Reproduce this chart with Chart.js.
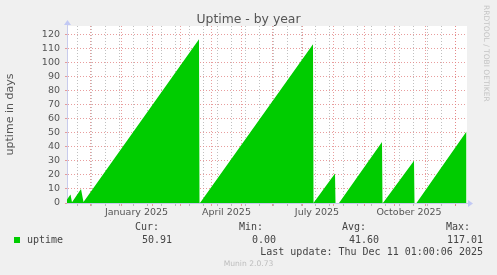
<!DOCTYPE html>
<html>
<head>
<meta charset="utf-8">
<script src="https://cdn.jsdelivr.net/npm/chart.js@4.4.1/dist/chart.umd.min.js"></script>
<style>
  html, body { margin: 0; padding: 0; background: #f0f0f0; }
  #wrap { position: relative; width: 497px; height: 275px; overflow: hidden; font-family: "DejaVu Sans", sans-serif; }
  #chart { position: absolute; left: 0; top: 0; }
  .t { position: absolute; white-space: pre; line-height: 12px; }
  .mono { font-family: "DejaVu Sans Mono", monospace; font-size: 10px; color: #444; }
</style>
</head>
<body>
<div id="wrap">
  <canvas id="chart" width="497" height="275"></canvas>
  <div class="t" style="left:0;width:497px;top:13px;text-align:center;font-size:12.4px;color:#555;">Uptime - by year</div>
  <div class="t" style="left:481px;top:5px;writing-mode:vertical-rl;font-size:7.5px;color:#c4c4c4;line-height:10px;">RRDTOOL / TOBI OETIKER</div>
  <div id="legend"></div>
  <div class="t" style="left:0;width:497px;top:258px;text-align:center;padding-left:-2px;font-size:7.6px;color:#bdbdbd;"><span style="position:relative;left:0px">Munin 2.0.73</span></div>
</div>
<script>
// x values are days since 8 Nov 2024 (400 day window, 1 day per pixel)
var uptimeDays = [0, 3.5, 5, 14, 16.5, 132, 132.5, 133.5, 246, 246.5, 247, 268, 268.5, 272, 315, 315.5, 316.5, 347, 347.5, 349.5, 399.5];
var uptimeVals = [2.5, 6, 0.5, 10, 0.8, 116.5, 0, 0.5, 113, 0, 0.5, 21, 0, 0, 43.5, 0, 0.5, 30, 0, 0, 50.9];

var monthStarts = [23, 54, 85, 113, 144, 174, 205, 235, 266, 297, 327, 358, 388];
var labelDays = [69.5, 159.5, 250, 342];
var labelTexts = ['January 2025', 'April 2025', 'July 2025', 'October 2025'];

var statNames = ['Cur:', 'Min:', 'Avg:', 'Max:'];
var statValues = ['50.91', '0.00', '41.60', '117.01'];
var lastUpdate = 'Last update: Thu Dec 11 01:00:06 2025';

var green = '#00cc00';
var majorCol = 'rgba(226,133,133,0.8)';
var minorCol = 'rgba(150,150,150,0.6)';
var axisCol = '#c8cbec';
var arrowCol = '#c2c9f4';

var minorDays = [];
for (var d = 10; d < 400; d += 14) minorDays.push(d);

var pts = uptimeDays.map(function (x, i) { return { x: x, y: uptimeVals[i] }; });

var plotBg = {
  id: 'plotBg',
  beforeDraw: function (chart) {
    var a = chart.chartArea, c = chart.ctx;
    c.save();
    c.fillStyle = '#f0f0f0';
    c.fillRect(0, 0, chart.width, chart.height);
    c.fillStyle = '#ffffff';
    c.fillRect(a.left, a.top, a.right - a.left, a.bottom - a.top);
    c.restore();
  },
  afterDraw: function (chart) {
    var a = chart.chartArea, c = chart.ctx;
    var lx = Math.round(a.left) + 0.5, by = Math.round(a.bottom) + 0.5;
    c.save();
    c.strokeStyle = axisCol;
    c.lineWidth = 1;
    c.beginPath();
    c.moveTo(lx, a.top); c.lineTo(lx, a.top - 3);
    c.moveTo(a.right, by); c.lineTo(a.right + 2, by);
    c.stroke();
    c.fillStyle = arrowCol;
    c.beginPath();
    c.moveTo(lx - 3.5, a.top - 1); c.lineTo(lx + 3.5, a.top - 1); c.lineTo(lx, a.top - 6); c.closePath();
    c.fill();
    c.beginPath();
    c.moveTo(a.right + 1, by - 3.5); c.lineTo(a.right + 1, by + 3.5); c.lineTo(a.right + 6, by); c.closePath();
    c.fill();
    c.restore();
  }
};

function kind(v) {
  if (monthStarts.indexOf(v) >= 0) return 'major';
  if (minorDays.indexOf(v) >= 0) return 'minor';
  return 'label';
}

new Chart(document.getElementById('chart'), {
  type: 'line',
  data: {
    datasets: [{
      label: 'uptime',
      data: pts,
      borderWidth: 0,
      borderColor: green,
      backgroundColor: green,
      pointRadius: 0,
      fill: 'origin',
      tension: 0
    }]
  },
  options: {
    responsive: false,
    animation: false,
    events: [],
    layout: { padding: { top: 26, right: 30, left: 0, bottom: 0 } },
    plugins: { legend: { display: false }, tooltip: { enabled: false } },
    scales: {
      x: {
        type: 'linear',
        min: 0,
        max: 400,
        afterFit: function (s) { s.height = 72; },
        afterBuildTicks: function (s) {
          var vals = minorDays.concat(monthStarts, labelDays);
          s.ticks = vals.map(function (v) { return { value: v }; });
        },
        ticks: {
          autoSkip: false,
          maxRotation: 0,
          padding: 1,
          color: '#555',
          font: { family: 'DejaVu Sans', size: 9.5 },
          callback: function (v) {
            var i = labelDays.indexOf(v);
            return i >= 0 ? labelTexts[i] : '';
          }
        },
        grid: {
          tickLength: 3,
          color: function (ctx) {
            var k = kind(ctx.tick.value);
            return k === 'major' ? majorCol : (k === 'minor' ? minorCol : 'rgba(0,0,0,0)');
          },
          tickColor: function (ctx) {
            var k = kind(ctx.tick.value);
            return k === 'major' ? majorCol : (k === 'minor' ? minorCol : 'rgba(0,0,0,0)');
          }
        },
        border: { color: axisCol, dash: [1, 2] }
      },
      y: {
        min: 0,
        max: 126,
        afterFit: function (s) { s.width = 67; },
        ticks: {
          stepSize: 5,
          includeBounds: false,
          padding: 5,
          color: '#555',
          font: { family: 'DejaVu Sans', size: 9.5 },
          callback: function (v) { return v % 10 === 0 ? v : ''; }
        },
        grid: {
          tickLength: 2,
          color: function (ctx) { return ctx.tick.value % 10 === 0 ? majorCol : minorCol; },
          tickColor: function (ctx) { return ctx.tick.value % 10 === 0 ? majorCol : 'rgba(0,0,0,0)'; }
        },
        border: { color: axisCol, dash: [1, 2] },
        title: {
          display: true,
          text: 'uptime in days',
          color: '#555',
          font: { family: 'DejaVu Sans', size: 11 },
          padding: { top: 4, bottom: 0 }
        }
      }
    }
  },
  plugins: [plotBg]
});

// legend / stats block
var lg = document.getElementById('legend');
var nameRight = [159, 263, 366, 470];
var valRight = [172, 276, 379, 483];
function addText(txt, right, top) {
  var el = document.createElement('div');
  el.className = 't mono';
  el.style.right = (497 - right) + 'px';
  el.style.top = top + 'px';
  el.textContent = txt;
  lg.appendChild(el);
}
statNames.forEach(function (n, i) { addText(n, nameRight[i], 221); });
statValues.forEach(function (v, i) { addText(v, valRight[i], 234); });
addText(lastUpdate, 483, 246);
var sw = document.createElement('div');
sw.style.cssText = 'position:absolute;left:14px;top:237px;width:6px;height:6px;background:' + green + ';';
lg.appendChild(sw);
var nm = document.createElement('div');
nm.className = 't mono';
nm.style.left = '27px';
nm.style.top = '234px';
nm.textContent = 'uptime';
lg.appendChild(nm);
</script>
</body>
</html>
